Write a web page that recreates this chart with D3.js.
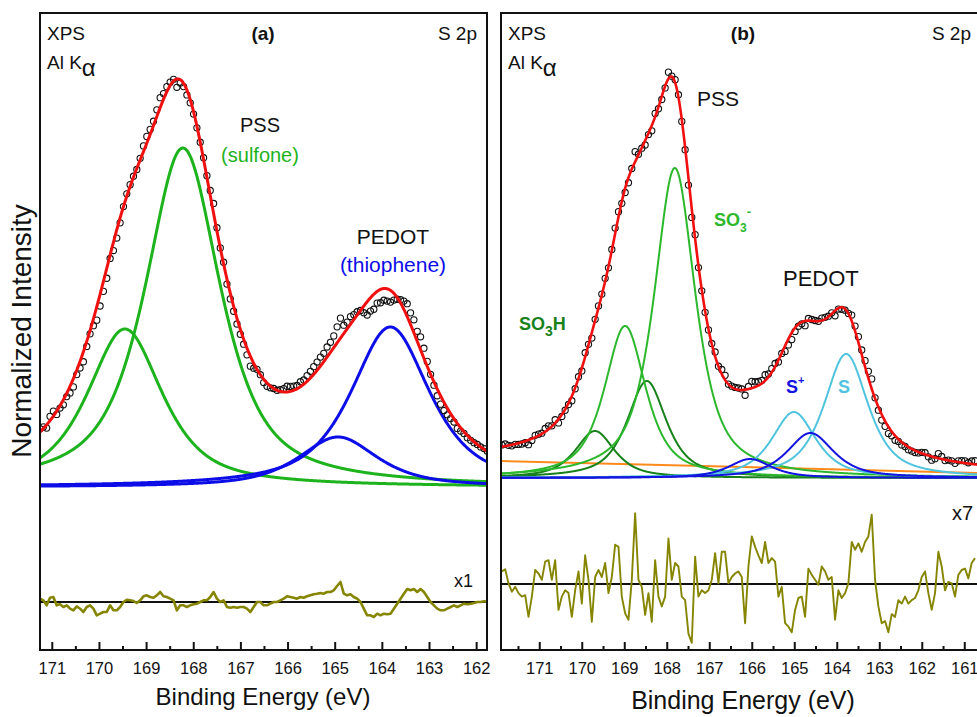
<!DOCTYPE html>
<html>
<head>
<meta charset="utf-8">
<script src="https://cdn.jsdelivr.net/npm/d3@7"></script>
<style>
  html, body { margin: 0; padding: 0; background: #fff; }
  svg { display: block; font-family: "Liberation Sans", Arial, sans-serif; }
</style>
</head>
<body>
<svg id="chart" width="977" height="717"></svg>
<script>
// ---------- Panel (a): S 2p, two-doublet fit ----------
const componentNamesA = ["PSS 2p1/2", "PSS 2p3/2", "PEDOT 2p1/2", "PEDOT 2p3/2"];
const componentGroupA = ["PSS", "PSS", "PEDOT", "PEDOT"];
const componentCenterA = [169.45, 168.22, 164.93, 163.82];   // eV
const componentHeightA = [158, 339, 50, 160];               // counts (arb.)
const componentHwhmA = [0.95, 0.95, 1.0, 1.0];               // eV
const lorentzFractionA = 0.75;
const residualScaleA = 1;
const residualStartA = 171.25, residualStepA = 0.0708;        // eV
const residualA = [
  3.3, 1.7, -3.3, 4.3, 5, -3.3, -2.3, -5, -3.3, -6.7,
  -8.3, -4.3, -6.7, -10, -5, -3.3, -6.7, -13.3, -11.7, -10,
  -10, -3.3, -8.3, -8.3, -5, 0, 2.3, 1.7, 1, -1,
  1.7, 5.7, 6.7, 5, 4.3, 6.7, 10, 5.7, 5, 3.3,
  1.7, -8.3, -3.3, -3.3, -5, -3.3, -2.3, -1.7, 0, 1.7,
  1.7, 5, 10, 3.3, 0, 1.7, -5, -5.7, -5, -5.7,
  -5, -5, -6.7, -10, -5, 0, 0, -3.3, -3.3, -1.7,
  0, 0, 1.7, 3.3, 5.7, 5, 4.3, 3.3, 5, 4.3,
  5.7, 6.7, 7.7, 8.3, 9, 8.3, 10, 10, 11.7, 16,
  20, 8.3, 6.7, 7.7, 5, 3.3, 0, -6.7, -13.3, -13.3,
  -15, -11.7, -13.3, -11.7, -12.3, -11.7, -6.7, -1.7, 3.3, 8.3,
  13, 11.7, 13, 10, 13, 10, 5, 0, -3.3, -6.7,
  -8.3, -8.3, -6.7, -5, -3.3, -5, -3.3, -1.7, -2.3, -1.7,
  -1, 0, 0, 0.7, 0
];
const majorTicksA = [171, 170, 169, 168, 167, 166, 165, 164, 163, 162];
const minorTicksA = [170.5, 169.5, 168.5, 167.5, 166.5, 165.5, 164.5, 163.5, 162.5];

// ---------- Panel (b): S 2p, four-doublet fit ----------
const componentNamesB = ["SO3H 2p1/2", "SO3H 2p3/2", "SO3- 2p1/2", "SO3- 2p3/2",
                         "S+ 2p1/2", "S+ 2p3/2", "S 2p1/2", "S 2p3/2"];
const componentGroupB = ["SO3H", "SO3H", "SO3-", "SO3-", "S+", "S+", "S", "S"];
const componentCenterB = [169.69, 168.47, 168.98, 167.81, 166.04, 164.62, 165.01, 163.78];
const componentHeightB = [47, 97, 152, 310, 19, 45, 66, 124];
const componentHwhmB = [0.55, 0.55, 0.58, 0.58, 0.6, 0.65, 0.62, 0.62];
const lorentzFractionB = 0.75;
const backgroundEnergyB = [171.9, 160.63];
const backgroundValueB = [17, 5];
const residualScaleB = 7;
const residualStartB = 171.88, residualStepB = 0.0784;
const residualB = [
  1.8, 2.1, 0.1, -1.1, -0.4, -1.3, -1.8, -1.6, -4.7, -1.8,
  2.0, 1.5, 0.6, 3.2, 3.4, 0.6, 3.4, -3.7, -1.8, -0.9,
  -1.3, -4.7, -0.9, 1.8, -2.8, 4.1, 0.6, -5.4, 1.0, 2.0,
  1.0, 3.0, -1.3, 1.0, 5.6, 5.3, -1.8, -4.2, -5.1, 0.6,
  10.1, 0.6, -0.4, -4.4, -1.3, -5.4, 3.4, -1.8, -3.2, -1.8,
  6.5, 0.6, 3.0, 2.5, -1.8, -2.3, -7.1, -8.4, 3.9, -1.8,
  -0.9, -1.3, -0.9, 0.6, 4.4, 0.1, 4.6, 4.6, 0.1, 1.0,
  1.5, 1.8, 1.0, -5.6, 2.5, 6.8, 5.3, 4.1, 3.0, 6.0,
  3.0, 3.7, 3.2, -1.8, -0.4, -5.6, -6.1, -6.9, -3.7, -2.0,
  -1.8, -4.7, 2.2, 1.3, 0.6, -0.1, 2.5, 1.8, 0.6, 1.0,
  -5.1, -0.9, -2.0, -1.3, 0.1, 6.0, 4.9, 5.8, 4.6, 6.0,
  6.8, 9.9, 0.6, -3.2, -5.6, -5.3, -6.9, -4.3, -4.7, -2.3,
  -2.8, -1.8, -2.8, -2.3, -2.0, -0.9, 1.0, 1.8, -1.3, -3.7,
  -1.3, 4.6, 2.5, -0.9, 0.3, 0.1, -1.8, 1.3, 2.0, 2.2,
  0.8, 3.0, 3.7
];
const majorTicksB = [171, 170, 169, 168, 167, 166, 165, 164, 163, 162, 161];
const minorTicksB = [171.5, 170.5, 169.5, 168.5, 167.5, 166.5, 165.5, 164.5, 163.5, 162.5, 161.5];

// ---------- styles ----------
const FONT = '"Liberation Sans", Arial, sans-serif';
const groupColor = {
  PSS: "#1db31d", PEDOT: "#0d0de8",
  SO3H: "#17821b", "SO3-": "#2cb82c", "S+": "#1414e0", S: "#50c4de"
};
const RED = "#f01010", OLIVE = "#858500", ORANGE = "#ff8a1c";

const svg = d3.select("#chart");

// pseudo-Voigt line shape
function pseudoVoigt(E, c, h, w, m) {
  const t = (E - c) / w;
  return h * (m / (1 + t * t) + (1 - m) * Math.exp(-Math.LN2 * t * t));
}

function drawPanel(cfg) {
  const { left, right, top, bottom, eMax, eMin, yDomain, id } = cfg;
  const x = d3.scaleLinear().domain([eMax, eMin]).range([left, right]);
  const y = d3.scaleLinear().domain(yDomain).range([bottom, top]);
  const g = svg.append("g");

  g.append("clipPath").attr("id", "clip-" + id)
    .append("rect").attr("x", left).attr("y", top)
    .attr("width", right - left).attr("height", bottom - top);
  const plot = g.append("g").attr("clip-path", `url(#clip-${id})`);

  const n = cfg.centers.length;
  const comp = (i, E) => pseudoVoigt(E, cfg.centers[i], cfg.heights[i], cfg.hwhm[i], cfg.mix);
  const bg = E => cfg.bg ? cfg.bg(E) : 0;
  const fit = E => bg(E) + d3.sum(d3.range(n), i => comp(i, E));

  const grid = d3.range(eMax + 0.05, eMin - 0.05, -0.01);
  const line = d3.line().x(d => x(d[0])).y(d => y(d[1]));

  // background line
  if (cfg.bg && cfg.showBg) {
    plot.append("path")
      .attr("d", line(cfg.bgEnergy.map((e, i) => [e, cfg.bgValue[i]])))
      .attr("fill", "none").attr("stroke", ORANGE).attr("stroke-width", 2);
  }

  // fit components
  cfg.order.forEach(i => {
    plot.append("path")
      .attr("d", line(grid.map(E => [E, comp(i, E)])))
      .attr("fill", "none")
      .attr("stroke", groupColor[cfg.groups[i]])
      .attr("stroke-width", cfg.lineWidth);
  });

  // measured points (fit + residual)
  const pts = cfg.residual.map((r, i) => {
    const E = cfg.resStart - i * cfg.resStep;
    return [E, fit(E) + r];
  });
  plot.append("g").selectAll("circle").data(pts).join("circle")
    .attr("cx", d => x(d[0])).attr("cy", d => y(d[1]))
    .attr("r", 3.1).attr("fill", "none")
    .attr("stroke", "#111").attr("stroke-width", 1.1);

  // envelope
  plot.append("path")
    .attr("d", line(grid.map(E => [E, fit(E)])))
    .attr("fill", "none").attr("stroke", RED)
    .attr("stroke-width", cfg.redWidth);

  // residual
  plot.append("line")
    .attr("x1", left).attr("x2", right)
    .attr("y1", y(cfg.resOffset)).attr("y2", y(cfg.resOffset))
    .attr("stroke", "#111").attr("stroke-width", 2);
  const resPts = cfg.residual.map((r, i) => [cfg.resStart - i * cfg.resStep, cfg.resOffset + r * cfg.resScale]);
  plot.append("path")
    .attr("d", line(resPts))
    .attr("fill", "none").attr("stroke", OLIVE)
    .attr("stroke-width", cfg.resWidth).attr("stroke-linejoin", "round");

  // axis
  const ax = g.append("g").attr("transform", `translate(0,${bottom})`)
    .call(d3.axisBottom(x).tickValues(cfg.major).tickFormat(d3.format("d"))
      .tickSizeInner(-8).tickSizeOuter(0).tickPadding(12));
  ax.select(".domain").remove();
  ax.selectAll(".tick line").attr("stroke", "#111").attr("stroke-width", 2);
  ax.selectAll(".tick text").attr("font-family", FONT).attr("font-size", 16.5).attr("fill", "#111");
  const axm = g.append("g").attr("transform", `translate(0,${bottom})`)
    .call(d3.axisBottom(x).tickValues(cfg.minor).tickFormat("")
      .tickSizeInner(-4).tickSizeOuter(0));
  axm.select(".domain").remove();
  axm.selectAll(".tick line").attr("stroke", "#111").attr("stroke-width", 2);

  // frame
  g.append("rect").attr("x", left).attr("y", top)
    .attr("width", right - left).attr("height", bottom - top)
    .attr("fill", "none").attr("stroke", "#111").attr("stroke-width", 2);

  return { x, y, g };
}

const A = drawPanel({
  id: "a", left: 40, right: 487, top: 13, bottom: 650,
  eMax: 171.25, eMin: 161.77, yDomain: [-163, 474],
  centers: componentCenterA, heights: componentHeightA, hwhm: componentHwhmA,
  groups: componentGroupA, mix: lorentzFractionA, order: [0, 1, 3, 2],
  lineWidth: 3, redWidth: 3,
  residual: residualA, resStart: residualStartA, resStep: residualStepA,
  resScale: residualScaleA, resOffset: -115, resWidth: 2.6,
  major: majorTicksA, minor: minorTicksA
});

const bgLine = d3.scaleLinear().domain(backgroundEnergyB).range(backgroundValueB);
const B = drawPanel({
  id: "b", left: 501, right: 980, top: 13, bottom: 650,
  eMax: 171.9, eMin: 160.63, yDomain: [-172, 465],
  centers: componentCenterB, heights: componentHeightB, hwhm: componentHwhmB,
  groups: componentGroupB, mix: lorentzFractionB, order: [0, 1, 2, 3, 6, 7, 4, 5],
  bg: E => bgLine(E), showBg: true, bgEnergy: backgroundEnergyB, bgValue: backgroundValueB,
  lineWidth: 2, redWidth: 2.6,
  residual: residualB, resStart: residualStartB, resStep: residualStepB,
  resScale: residualScaleB, resOffset: -106, resWidth: 1.9,
  major: majorTicksB, minor: minorTicksB
});

// ---------- text ----------
function txt(x, y, s, opts = {}) {
  return svg.append("text").attr("x", x).attr("y", y)
    .attr("font-family", FONT)
    .attr("font-size", opts.size || 19)
    .attr("font-weight", opts.bold ? "bold" : "normal")
    .attr("text-anchor", opts.anchor || "start")
    .attr("fill", opts.color || "#111")
    .text(s);
}
function alKalpha(x) {
  const t = txt(x, 69, "Al K", { size: 19 });
  t.append("tspan").attr("dy", 7).attr("font-size", 24).text("\u03B1");
}

// panel (a)
txt(47, 40, "XPS");
alKalpha(47);
txt(263, 40, "(a)", { bold: true, anchor: "middle" });
txt(477, 40, "S 2p", { anchor: "end" });
txt(260, 132, "PSS", { size: 20, anchor: "middle" });
txt(260, 162, "(sulfone)", { size: 20, anchor: "middle", color: groupColor.PSS });
txt(393, 244, "PEDOT", { size: 21, anchor: "middle" });
txt(393, 272, "(thiophene)", { size: 21, anchor: "middle", color: groupColor.PEDOT });
txt(473, 587, "x1", { size: 18, anchor: "end" });

// panel (b)
txt(508, 40, "XPS");
alKalpha(508);
txt(743, 40, "(b)", { bold: true, anchor: "middle" });
txt(971, 40, "S 2p", { anchor: "end" });
txt(697, 106, "PSS", { size: 21 });
txt(783, 286, "PEDOT", { size: 22 });
{
  const t = txt(714, 226, "SO", { size: 18, bold: true, color: groupColor["SO3-"] });
  t.append("tspan").attr("dy", 6).attr("font-size", 12).text("3");
  t.append("tspan").attr("dy", -16).attr("font-size", 13).text("-");
}
{
  const t = txt(519, 330, "SO", { size: 18, bold: true, color: groupColor.SO3H });
  t.append("tspan").attr("dy", 6).attr("font-size", 14).text("3");
  t.append("tspan").attr("dy", -6).text("H");
}
{
  const t = txt(786, 393, "S", { size: 18, bold: true, color: groupColor["S+"] });
  t.append("tspan").attr("dy", -9).attr("font-size", 11).text("+");
}
txt(838, 393, "S", { size: 18, bold: true, color: groupColor.S });
txt(973, 520, "x7", { size: 20, anchor: "end" });

// axis titles
txt(263, 705, "Binding Energy (eV)", { size: 24, anchor: "middle" });
txt(743, 709, "Binding Energy (eV)", { size: 25, anchor: "middle" });
svg.append("text")
  .attr("transform", "translate(31,331) rotate(-90)")
  .attr("font-family", FONT).attr("font-size", 28).attr("fill", "#111")
  .attr("text-anchor", "middle").text("Normalized Intensity");
</script>
</body>
</html>
